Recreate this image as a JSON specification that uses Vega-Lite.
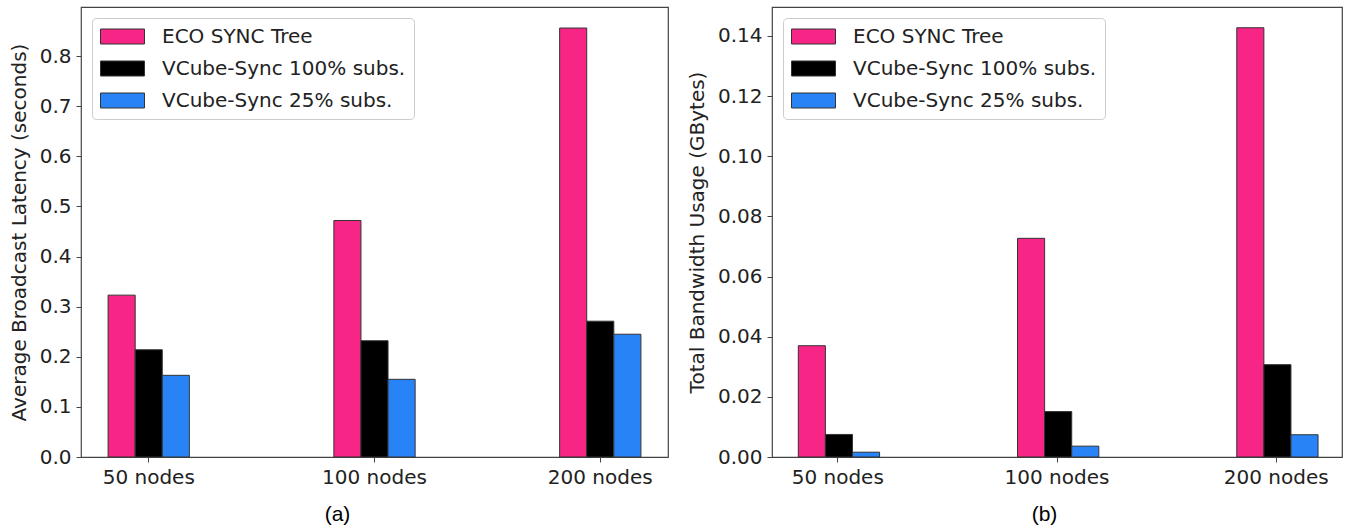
{
  "$schema": "https://vega.github.io/schema/vega-lite/v6.json",
  "padding": {"left": 8, "top": 6, "right": 0, "bottom": 0},
  "background": "white",
  "datasets": {
    "latency": [
      {"nodes": "50 nodes", "series": "ECO SYNC Tree", "value": 0.323},
      {"nodes": "50 nodes", "series": "VCube-Sync 100% subs.", "value": 0.214},
      {"nodes": "50 nodes", "series": "VCube-Sync 25% subs.", "value": 0.163},
      {"nodes": "100 nodes", "series": "ECO SYNC Tree", "value": 0.472},
      {"nodes": "100 nodes", "series": "VCube-Sync 100% subs.", "value": 0.232},
      {"nodes": "100 nodes", "series": "VCube-Sync 25% subs.", "value": 0.155},
      {"nodes": "200 nodes", "series": "ECO SYNC Tree", "value": 0.856},
      {"nodes": "200 nodes", "series": "VCube-Sync 100% subs.", "value": 0.271},
      {"nodes": "200 nodes", "series": "VCube-Sync 25% subs.", "value": 0.245}
    ],
    "bandwidth": [
      {"nodes": "50 nodes", "series": "ECO SYNC Tree", "value": 0.0370},
      {"nodes": "50 nodes", "series": "VCube-Sync 100% subs.", "value": 0.0075},
      {"nodes": "50 nodes", "series": "VCube-Sync 25% subs.", "value": 0.0016},
      {"nodes": "100 nodes", "series": "ECO SYNC Tree", "value": 0.0727},
      {"nodes": "100 nodes", "series": "VCube-Sync 100% subs.", "value": 0.0151},
      {"nodes": "100 nodes", "series": "VCube-Sync 25% subs.", "value": 0.0036},
      {"nodes": "200 nodes", "series": "ECO SYNC Tree", "value": 0.1427},
      {"nodes": "200 nodes", "series": "VCube-Sync 100% subs.", "value": 0.0307},
      {"nodes": "200 nodes", "series": "VCube-Sync 25% subs.", "value": 0.0074}
    ]
  },
  "spacing": 17,
  "resolve": {"scale": {"color": "independent"}, "legend": {"color": "independent"}},
  "hconcat": [
    {
      "width": 587,
      "height": 450,
      "data": {"name": "latency"},
      "mark": {"type": "bar", "stroke": "#333333", "strokeWidth": 1},
      "encoding": {
        "x": {
          "field": "nodes", "type": "nominal",
          "sort": ["50 nodes", "100 nodes", "200 nodes"],
          "scale": {"paddingInner": 0.64, "paddingOuter": 0.12},
          "axis": {"title": "(a)", "titleX": 256}
        },
        "xOffset": {
          "field": "series", "type": "nominal",
          "sort": ["ECO SYNC Tree", "VCube-Sync 100% subs.", "VCube-Sync 25% subs."],
          "scale": {"paddingInner": 0, "paddingOuter": 0}
        },
        "y": {
          "field": "value", "type": "quantitative",
          "scale": {"domain": [0, 0.898], "nice": false, "zero": true},
          "axis": {"title": "Average Broadcast Latency (seconds)", "values": [0, 0.1, 0.2, 0.3, 0.4, 0.5, 0.6, 0.7, 0.8], "format": ".1f"}
        },
        "color": {
          "field": "series", "type": "nominal",
          "scale": {"domain": ["ECO SYNC Tree", "VCube-Sync 100% subs.", "VCube-Sync 25% subs."], "range": ["#F72585", "#000000", "#2884F6"]},
          "legend": {"title": null}
        }
      }
    },
    {
      "width": 570,
      "height": 450,
      "data": {"name": "bandwidth"},
      "mark": {"type": "bar", "stroke": "#333333", "strokeWidth": 1},
      "encoding": {
        "x": {
          "field": "nodes", "type": "nominal",
          "sort": ["50 nodes", "100 nodes", "200 nodes"],
          "scale": {"paddingInner": 0.64, "paddingOuter": 0.12},
          "axis": {"title": "(b)", "titleX": 272}
        },
        "xOffset": {
          "field": "series", "type": "nominal",
          "sort": ["ECO SYNC Tree", "VCube-Sync 100% subs.", "VCube-Sync 25% subs."],
          "scale": {"paddingInner": 0, "paddingOuter": 0}
        },
        "y": {
          "field": "value", "type": "quantitative",
          "scale": {"domain": [0, 0.1496], "nice": false, "zero": true},
          "axis": {"title": "Total Bandwidth Usage (GBytes)", "values": [0, 0.02, 0.04, 0.06, 0.08, 0.1, 0.12, 0.14], "format": ".2f"}
        },
        "color": {
          "field": "series", "type": "nominal",
          "scale": {"domain": ["ECO SYNC Tree", "VCube-Sync 100% subs.", "VCube-Sync 25% subs."], "range": ["#F72585", "#000000", "#2884F6"]},
          "legend": {"title": null}
        }
      }
    }
  ],
  "config": {
    "font": "DejaVu Sans",
    "view": {"stroke": "#444444", "strokeWidth": 1.2},
    "axis": {
      "grid": false,
      "domain": false,
      "ticks": true,
      "tickSize": 5,
      "tickColor": "#444444",
      "tickWidth": 1,
      "labelPadding": 5,
      "labelFont": "DejaVu Sans",
      "labelFontSize": 20,
      "labelColor": "#222222",
      "titleFont": "DejaVu Sans",
      "titleFontSize": 20,
      "titleFontWeight": "normal",
      "titleColor": "#222222",
      "titlePadding": 10
    },
    "axisX": {
      "labelAngle": 0,
      "titleFont": "Liberation Sans",
      "titleFontSize": 21,
      "titlePadding": 16,
      "titleColor": "#000000"
    },
    "legend": {
      "orient": "top-left",
      "offset": 11,
      "padding": 8,
      "fillColor": "white",
      "strokeColor": "#cccccc",
      "cornerRadius": 4,
      "labelFont": "DejaVu Sans",
      "labelFontSize": 20,
      "labelColor": "#222222",
      "labelLimit": 500,
      "labelOffset": 41,
      "rowPadding": 11,
      "symbolType": "M-1,-0.75H3.4V0.75H-1Z",
      "symbolSize": 400,
      "symbolStrokeColor": "#333333",
      "symbolStrokeWidth": 1,
      "symbolOpacity": 1
    }
  }
}
